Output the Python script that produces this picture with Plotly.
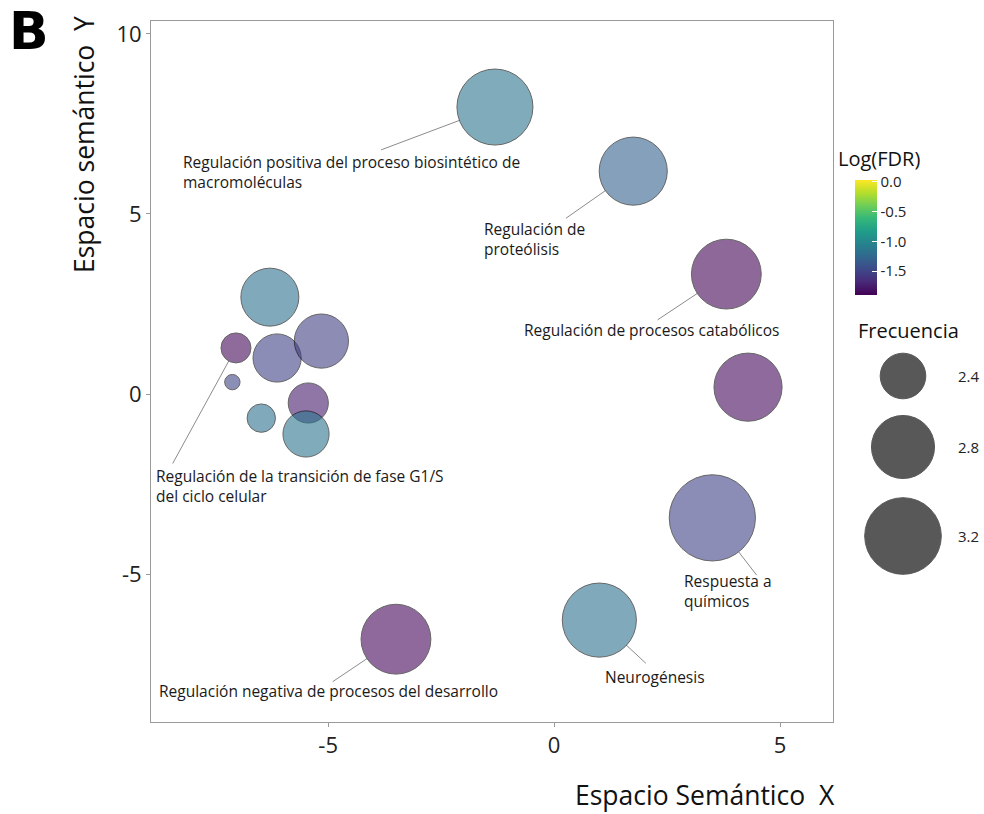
import numpy as np
import plotly.graph_objects as go

# GO terms placed in semantic space
sem_x = [-1.31, 1.75, 3.81, 4.29, 3.50, 1.00, -3.50,
         -6.29, -7.04, -6.13, -5.15, -7.12, -5.44, -6.48, -5.49]
sem_y = [7.97, 6.19, 3.33, 0.19, -3.44, -6.28, -6.81,
         2.69, 1.28, 1.00, 1.47, 0.33, -0.25, -0.67, -1.11]
log_fdr = [-1.16, -1.30, -1.88, -1.86, -1.51, -1.17, -1.87,
           -1.18, -1.85, -1.51, -1.53, -1.50, -1.75, -1.17, -1.15]
frecuencia = [3.18, 2.94, 2.99, 2.94, 3.53, 3.12, 2.99,
              2.67, 2.15, 2.45, 2.58, 2.01, 2.30, 2.13, 2.41]

# labelled terms: index of the term, label text, label anchor, segment start
label_idx = [0, 1, 2, 8, 4, 5, 6]
label_text = [
    "Regulación positiva del proceso biosintético de<br>macromoléculas",
    "Regulación de<br>proteólisis",
    "Regulación de procesos catabólicos",
    "Regulación de la transición de fase G1/S<br>del ciclo celular",
    "Respuesta a<br>químicos",
    "Neurogénesis",
    "Regulación negativa de procesos del desarrollo",
]
label_x = [-8.25, -1.59, -0.71, -8.85, 2.83, 1.08, -8.78]
label_y = [6.80, 4.95, 2.15, -1.92, -4.84, -7.50, -7.90]
seg_x = [-3.83, 0.26, 2.29, -8.44, 4.48, 2.03, -4.90]
seg_y = [6.78, 4.88, 2.06, -1.93, -5.03, -7.48, -7.99]

legend_freq = [2.4, 2.8, 3.2]
fdr_ticks = [0.0, -0.5, -1.0, -1.5]
x_ticks = [-5, 0, 5]
y_ticks = [-5, 0, 5, 10]

X_RANGE = [-8.92, 6.17]
Y_RANGE = [-9.11, 10.36]
W, H = 984, 814
M_L, M_R, M_T, M_B = 151, 0, 21, 92
PLOT_W = 682
PLOT_H = H - M_T - M_B
PAPER_W = W - M_L - M_R
FONT = "Open Sans"

# area scale: marker radius (px) grows with sqrt of (value - offset)
SIZE_K, SIZE_V0 = 1184.0, 1.96


def marker_diameter(v):
    return 2.0 * np.sqrt(SIZE_K * (np.asarray(v) - SIZE_V0))


def hyphen(v, fmt="{:g}"):
    return fmt.format(v)


px_x = PLOT_W / (X_RANGE[1] - X_RANGE[0])
px_y = PLOT_H / (Y_RANGE[1] - Y_RANGE[0])
diam = marker_diameter(frecuencia)

fig = go.Figure()

# connector segments from labels to bubble edges
for k, i in enumerate(label_idx):
    dx = (seg_x[k] - sem_x[i]) * px_x
    dy = (seg_y[k] - sem_y[i]) * px_y
    dist = np.hypot(dx, dy)
    r = diam[i] / 2.0
    ex = sem_x[i] + dx / dist * r / px_x
    ey = sem_y[i] + dy / dist * r / px_y
    fig.add_trace(go.Scatter(
        x=[seg_x[k], ex], y=[seg_y[k], ey], mode="lines",
        line=dict(color="#8c8c8c", width=1), hoverinfo="skip",
        showlegend=False))

fig.add_trace(go.Scatter(
    x=sem_x, y=sem_y, mode="markers",
    marker=dict(
        size=diam, sizemode="diameter", color=log_fdr,
        colorscale="Viridis", cmin=-1.9, cmax=0.03, opacity=0.6,
        line=dict(color="black", width=1),
        colorbar=dict(
            lenmode="pixels", len=115, thickness=22,
            x=(855 - M_L) / PAPER_W, xanchor="left", xpad=0,
            y=(H - M_B - 237.5) / PLOT_H, yanchor="middle", ypad=0,
            outlinewidth=0, ticks="inside", ticklen=5,
            tickcolor="white", tickvals=fdr_ticks,
            ticktext=[f"{t:.1f}" for t in fdr_ticks],
            tickfont=dict(family=FONT, size=15, color="#222"),
        ),
    ),
    showlegend=False, hoverinfo="skip"))

# size guide
LEG_W = W - 842
leg_y = [346, 275, 186]
fig.add_trace(go.Scatter(
    x=[61] * len(legend_freq), y=leg_y, mode="markers",
    marker=dict(size=marker_diameter(legend_freq), color="black",
                opacity=0.65, line=dict(color="black", width=1)),
    xaxis="x2", yaxis="y2", showlegend=False, hoverinfo="skip"))

annotations = []
for k in range(len(label_text)):
    annotations.append(dict(
        x=label_x[k], y=label_y[k], xref="x", yref="y", text=label_text[k],
        showarrow=False, xanchor="left", yanchor="top", align="left",
        font=dict(family=FONT, size=15.5, color="#1a1a1a")))

for v, yy in zip(legend_freq, leg_y):
    annotations.append(dict(
        x=114, y=yy, xref="x2", yref="y2", text=f"{v:.1f}",
        showarrow=False, xanchor="left", yanchor="middle",
        font=dict(family=FONT, size=15, color="#222")))

annotations += [
    dict(x=(836 - M_L) / PAPER_W, y=(H - M_B - 158) / PLOT_H, xref="paper",
         yref="paper", text="Log(FDR)", showarrow=False, xanchor="left",
         yanchor="middle", font=dict(family=FONT, size=20, color="#111")),
    dict(x=(908 - M_L) / PAPER_W, y=(H - M_B - 330) / PLOT_H, xref="paper",
         yref="paper", text="Frecuencia", showarrow=False, xanchor="center",
         yanchor="middle", font=dict(family=FONT, size=20, color="#111")),
    dict(x=(705 - M_L) / PAPER_W, y=(H - M_B - 795) / PLOT_H, xref="paper",
         yref="paper", text="Espacio Semántico  X", showarrow=False,
         xanchor="center", yanchor="middle",
         font=dict(family=FONT, size=26.5, color="#111")),
    dict(x=(84 - M_L) / PAPER_W, y=(H - M_B - 145) / PLOT_H, xref="paper",
         yref="paper", text="Espacio semántico  Y", showarrow=False,
         textangle=-90, xanchor="center", yanchor="middle",
         font=dict(family=FONT, size=26.5, color="#111")),
    dict(x=(29 - M_L) / PAPER_W, y=(H - M_B) / PLOT_H, xref="paper",
         yref="paper", text="<b>B</b>", showarrow=False,
         xanchor="center", yanchor="top", borderpad=0,
         font=dict(family="DejaVu Sans", size=52, color="black")),
]

axis_common = dict(
    showgrid=False, zeroline=False, showline=True, mirror=True,
    linecolor="#9a9a9a", linewidth=1, ticks="outside", ticklen=4,
    tickcolor="#9a9a9a", tickfont=dict(family=FONT, size=22, color="#222"),
)

fig.update_layout(
    width=W, height=H, margin=dict(l=M_L, r=M_R, t=M_T, b=M_B),
    paper_bgcolor="white", plot_bgcolor="white",
    xaxis=dict(range=X_RANGE, domain=[0, PLOT_W / PAPER_W],
               tickvals=x_ticks, ticktext=[hyphen(v) for v in x_ticks],
               **axis_common),
    yaxis=dict(range=Y_RANGE, tickvals=y_ticks,
               ticktext=[hyphen(v) for v in y_ticks], **axis_common),
    xaxis2=dict(domain=[(842 - M_L) / PAPER_W, 1], range=[0, LEG_W],
                visible=False, anchor="y2"),
    yaxis2=dict(domain=[0, 1], range=[0, PLOT_H], visible=False,
                anchor="x2"),
    annotations=annotations,
    showlegend=False,
)

fig.write_html("out.html")
